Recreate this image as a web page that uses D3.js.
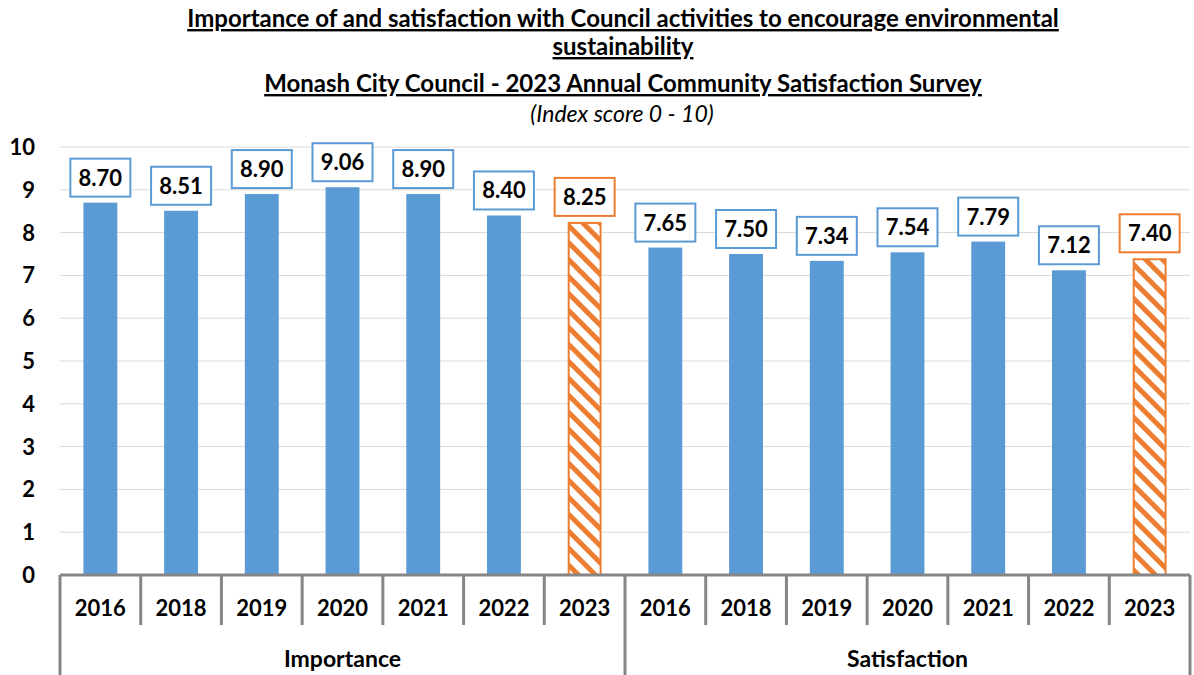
<!DOCTYPE html>
<html><head><meta charset="utf-8">
<script src="https://cdn.jsdelivr.net/npm/d3@7"></script>
<style>body{margin:0;background:#fff}svg{display:block;font-family:Lato,"Open Sans",sans-serif}</style>
</head><body><svg id="c" width="1194" height="675"></svg>
<script>
const groups = ["Importance", "Satisfaction"];
const years = ["2016","2018","2019","2020","2021","2022","2023"];
const importance = [8.70, 8.51, 8.90, 9.06, 8.90, 8.40, 8.25];
const satisfaction = [7.65, 7.50, 7.34, 7.54, 7.79, 7.12, 7.40];
const yTicks = [0,1,2,3,4,5,6,7,8,9,10];
const titleLines = ["Importance of and satisfaction with Council activities to encourage environmental","sustainability","Monash City Council - 2023 Annual Community Satisfaction Survey"];
const subtitle = "(Index score 0 - 10)";

const data = [];
groups.forEach((g,gi)=>{
  const vals = gi===0?importance:satisfaction;
  years.forEach((y,i)=>data.push({key:g+"-"+y, group:g, year:y, value:vals[i], current:y==="2023"}));
});

const svg = d3.select("#c");
const L=60, R=1190, T=147, B=575;
const x = d3.scaleBand().domain(data.map(d=>d.key)).range([L,R]).paddingInner(0.58).paddingOuter(0.29);
const y = d3.scaleLinear().domain([0,10]).range([B,T]);
const blue="#5b9bd5", orange="#ed7d31";

const defs = svg.append("defs");
const pat = defs.append("pattern").attr("id","hatch").attr("patternUnits","userSpaceOnUse")
  .attr("width",12).attr("height",12).attr("patternTransform","rotate(-45)");
pat.append("rect").attr("width",12).attr("height",12).attr("fill","#fff");
pat.append("rect").attr("x",0).attr("width",5).attr("height",12).attr("fill",orange);

// title
const tg = svg.append("g").attr("text-anchor","middle").attr("font-weight","bold").attr("font-size",24).attr("fill","#000");
[19,47,84].forEach((ty,i)=>{
  tg.append("text").attr("x",623).attr("y",ty+8).attr("text-decoration","underline").text(titleLines[i]);
});
svg.append("text").attr("x",622).attr("y",122).attr("text-anchor","middle").attr("font-style","italic").attr("font-size",23).text(subtitle);

// gridlines
svg.append("g").selectAll("line").data(yTicks.filter(t=>t>0)).join("line")
  .attr("x1",L).attr("x2",R).attr("y1",d=>y(d)).attr("y2",d=>y(d)).attr("stroke","#d9d9d9").attr("stroke-width",1);

// y axis labels
svg.append("g").selectAll("text").data(yTicks).join("text")
  .attr("x",35).attr("y",d=>y(d)).attr("dy","0.36em").attr("text-anchor","end")
  .attr("font-weight","bold").attr("font-size",22).text(d=>d);

// bars
svg.append("g").selectAll("rect").data(data).join("rect")
  .attr("x",d=>x(d.key)+(d.current?1:0)).attr("width",d=>x.bandwidth()-(d.current?2:0))
  .attr("y",d=>y(d.value)+(d.current?1:0)).attr("height",d=>y(0)-y(d.value)-(d.current?1:0))
  .attr("fill",d=>d.current?"url(#hatch)":blue)
  .attr("stroke",d=>d.current?orange:"none").attr("stroke-width",2);

// labels
const bw=60, bh=38;
const lg = svg.append("g").selectAll("g").data(data).join("g")
  .attr("transform",d=>`translate(${x(d.key)+x.bandwidth()/2},${y(d.value)-6-bh/2})`);
lg.append("rect").attr("x",-bw/2).attr("y",-bh/2).attr("width",bw).attr("height",bh)
  .attr("fill","#fff").attr("stroke",d=>d.current?orange:blue).attr("stroke-width",2);
lg.append("text").attr("text-anchor","middle").attr("dy","0.36em").attr("font-weight","bold").attr("font-size",22)
  .text(d=>d3.format(".2f")(d.value));

// x axis
const ax = svg.append("g").attr("stroke","#868686").attr("stroke-width",3);
ax.append("line").attr("x1",L).attr("x2",R).attr("y1",B).attr("y2",B);
const step = (R-L)/14;
d3.range(15).forEach(i=>{
  const xx = L + i*step;
  const isGroup = (i%7===0);
  ax.append("line").attr("x1",xx).attr("x2",xx).attr("y1",B).attr("y2",isGroup?675:625);
});
svg.append("g").selectAll("text").data(data).join("text")
  .attr("x",d=>x(d.key)+x.bandwidth()/2).attr("y",608).attr("dy","0.36em").attr("text-anchor","middle")
  .attr("font-weight","bold").attr("font-size",22).text(d=>d.year);
svg.append("g").selectAll("text").data(groups).join("text")
  .attr("x",(d,i)=>L+(R-L)*(i*2+1)/4).attr("y",659).attr("dy","0.36em").attr("text-anchor","middle")
  .attr("font-weight","bold").attr("font-size",23).text(d=>d);
</script></body></html>
